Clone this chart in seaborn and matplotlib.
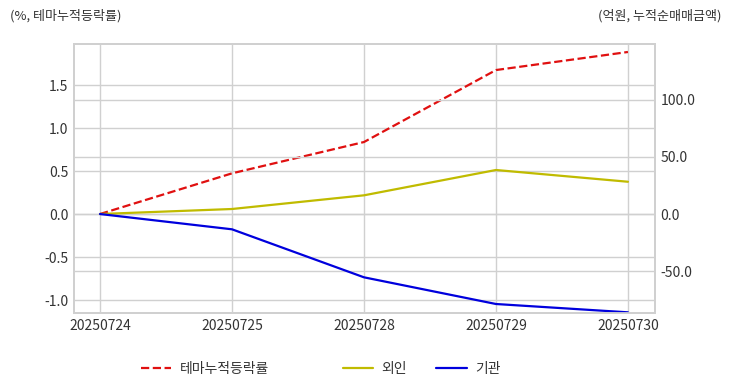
import matplotlib
matplotlib.use("Agg")
import matplotlib.pyplot as plt
import seaborn as sns
import pandas as pd
from matplotlib.lines import Line2D

dates = ["20250724", "20250725", "20250728", "20250729", "20250730"]
theme_return = [0.0, 0.473, 0.837, 1.674, 1.884]
foreign = [0.0, 4.4, 16.4, 38.6, 28.3]
institution = [0.0, -13.4, -55.5, -78.9, -86.2]
left_ticks = [-1.0, -0.5, 0.0, 0.5, 1.0, 1.5]
right_ticks = [-50.0, 0.0, 50.0, 100.0]

sns.set_theme(style="whitegrid")
plt.rcParams['font.family'] = ['Noto Sans CJK KR', 'DejaVu Sans']
plt.rcParams['axes.unicode_minus'] = False

pos = list(range(len(dates)))
df = pd.DataFrame({"pos": pos, "date": dates, "theme": theme_return,
                   "foreign": foreign, "inst": institution})

fig = plt.figure(figsize=(7.32, 3.92), dpi=100)
ax1 = fig.add_axes([0.1011, 0.2015, 0.7937, 0.6863])
ax2 = ax1.twinx()

red = "#e01010"
yellow = "#c0bb00"
blue = "#0000dd"
grid_c = "#d0d0d0"
txt_c = "#333333"

sns.lineplot(data=df, x="pos", y="theme", ax=ax1, color=red, linestyle="--", linewidth=1.6)
sns.lineplot(data=df, x="pos", y="foreign", ax=ax2, color=yellow, linewidth=1.6)
sns.lineplot(data=df, x="pos", y="inst", ax=ax2, color=blue, linewidth=1.6)

ax1.set_xlim(-0.197, 4.205)
ax1.set_ylim(-1.151, 1.977)
ax2.set_ylim(-86.8, 149.1)

ax1.set_xticks(pos)
ax1.set_xticklabels(dates)
ax1.set_yticks(left_ticks)
ax1.set_yticklabels([f"{v:.1f}" for v in left_ticks])
ax2.set_yticks(right_ticks)
ax2.set_yticklabels([f"{v:.1f}" for v in right_ticks])

for ax in (ax1, ax2):
    ax.set_xlabel("")
    ax.set_ylabel("")
    ax.tick_params(axis="both", length=0, labelsize=10, labelcolor=txt_c, pad=4)
    ax.grid(True, color=grid_c, linewidth=1.0)
    for s in ax.spines.values():
        s.set_color(grid_c)
        s.set_linewidth(1.3)
ax2.grid(True, axis="y", color=grid_c, linewidth=1.0)
ax2.grid(False, axis="x")
ax2.patch.set_visible(False)

fig.text(10 / 732, 1 - 16 / 392, "(%, 테마누적등락률)", fontsize=9.4, color=txt_c,
         ha="left", va="center")
fig.text(722 / 732, 1 - 16 / 392, "(억원, 누적순매매금액)", fontsize=9.4, color=txt_c,
         ha="right", va="center")

h1 = [Line2D([], [], color=red, linestyle="--", linewidth=1.6)]
h2 = [Line2D([], [], color=yellow, linewidth=1.6), Line2D([], [], color=blue, linewidth=1.6)]
leg1 = fig.legend(h1, ["테마누적등락률"], loc="center left",
                  bbox_to_anchor=(128 / 732, 23 / 392), frameon=False, fontsize=10,
                  handlelength=2.2, handletextpad=0.6)
for t in leg1.get_texts():
    t.set_color(txt_c)
leg2 = fig.legend(h2, ["외인", "기관"], loc="center left", ncol=2,
                  bbox_to_anchor=(330 / 732, 23 / 392), frameon=False, fontsize=10,
                  handlelength=2.2, handletextpad=0.6, columnspacing=2.1)
for t in leg2.get_texts():
    t.set_color(txt_c)

fig.savefig("out.png", dpi=100)
